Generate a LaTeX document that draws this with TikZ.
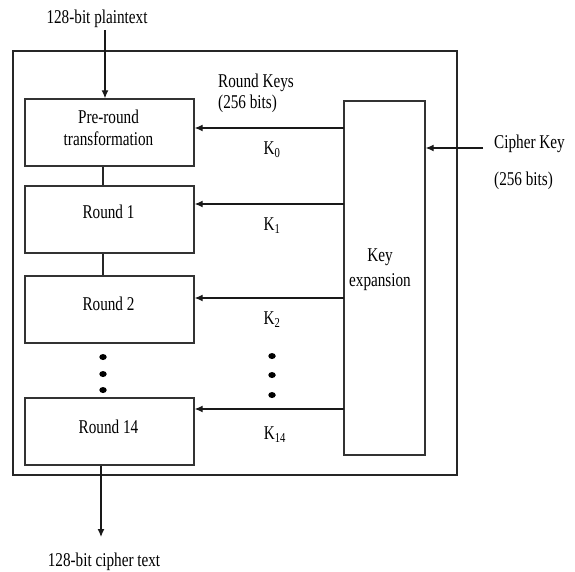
\documentclass[tikz,border=0pt]{standalone}
\usepackage{fontspec}
\setmainfont{Liberation Serif}[FakeStretch=0.78]
\usetikzlibrary{arrows.meta,shapes.geometric}
\begin{document}
\begin{tikzpicture}[x=1pt,y=-1pt,
  font=\fontsize{19.5}{22}\selectfont,
  box/.style={draw=black!80, line width=1.4pt, minimum width=169pt, minimum height=67pt, inner sep=0pt},
  txt/.style={inner sep=0pt, align=center},
  arr/.style={draw=black!90, line width=1.2pt, -{Latex[length=8pt,width=7pt]}},
  dotmark/.style={ellipse, fill=black, minimum width=7.5pt, minimum height=6pt, inner sep=0pt}]
\useasboundingbox (0,0) rectangle (575,571);

% outer frame
\node[draw=black!85, line width=1.4pt, minimum width=444pt, minimum height=424pt, inner sep=0pt] (frame) at (235,263) {};

% round boxes
\node[box] (pre) at (109.5,132.5) {};
\node[box] (r1)  at (109.5,219.5) {};
\node[box] (r2)  at (109.5,309.5) {};
\node[box] (r14) at (109.5,431.5) {};
\node[txt] (pretxt) at (108.5,128) {Pre-round\\transformation};
\node[txt] (r1txt)  at (108.5,212) {Round 1};
\node[txt] (r2txt)  at (108.5,304) {Round 2};
\node[txt] (r14txt) at (108.5,427) {Round 14};

% key expansion
\node[draw=black!80, line width=1.4pt, minimum width=81pt, minimum height=354pt, inner sep=0pt] (kexp) at (384.5,278) {};
\node[txt, font=\fontsize{19.5}{25}\selectfont] (kexptxt) at (380,270) {Key\\expansion};

% vertical links
\coordinate (cx) at (103,0);
\draw[draw=black!85, line width=1.2pt] (pre.south -| cx) -- (r1.north -| cx);
\draw[draw=black!85, line width=1.2pt] (r1.south -| cx) -- (r2.north -| cx);

% dots
\node[dotmark] (dl1) at (103,357) {};
\node[dotmark] (dl2) at (103,374) {};
\node[dotmark] (dl3) at (103,390) {};
\node[dotmark] (dr1) at (272,356) {};
\node[dotmark] (dr2) at (272,375) {};
\node[dotmark] (dr3) at (272,395) {};

% plaintext in
\node[txt] (ptxt) at (97,19) {128-bit plaintext};
\coordinate (pin) at (105,30);
\draw[arr] (pin) -- (pin |- pre.north);

% cipher text out
\node[txt] (ctxt) at (104,562) {128-bit cipher text};
\coordinate (pout) at (101,537);
\draw[arr] (r14.south -| pout) -- (pout);

% round keys
\coordinate (k0) at (344,128);
\coordinate (k1) at (344,204);
\coordinate (k2) at (344,298);
\coordinate (k14) at (344,409);
\draw[arr] (k0) -- (pre.east |- k0);
\draw[arr] (k1) -- (r1.east |- k1);
\draw[arr] (k2) -- (r2.east |- k2);
\draw[arr] (k14) -- (r14.east |- k14);
\node[txt] (lk0) at (272,150) {K\textsubscript{0}};
\node[txt] (lk1) at (272,226) {K\textsubscript{1}};
\node[txt] (lk2) at (272,320) {K\textsubscript{2}};
\node[txt] (lk14) at (275,435) {K\textsubscript{14}};
\node[txt, anchor=west] (rk) at (218,83) {Round Keys};
\node[txt, anchor=west] (rkb) at (218,104) {(256 bits)};

% cipher key
\coordinate (ck) at (483,148);
\draw[arr] (ck) -- (kexp.east |- ck);
\node[txt, anchor=west] (ckt) at (494,144) {Cipher Key};
\node[txt, anchor=west] (ckb) at (494,181) {(256 bits)};
\end{tikzpicture}
\end{document}
